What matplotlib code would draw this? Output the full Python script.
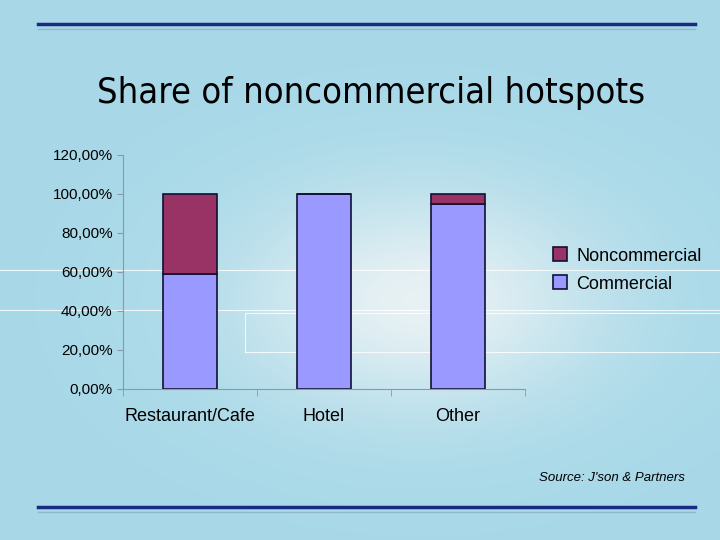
import matplotlib
matplotlib.use("Agg")
import matplotlib.pyplot as plt
import numpy as np
from matplotlib.ticker import FuncFormatter

categories = ["Restaurant/Cafe", "Hotel", "Other"]
commercial = [58.8, 100.0, 94.7]
noncommercial = [41.2, 0.0, 5.3]
yticks = [0, 20, 40, 60, 80, 100, 120]

fig = plt.figure(figsize=(7.2, 5.4), dpi=100)
fig.patch.set_facecolor("#acdbe8")

# slide decoration
bg = fig.add_axes([0, 0, 1, 1], zorder=-10)
bg.set_xlim(0, 720); bg.set_ylim(540, 0); bg.axis("off")
yy, xx = np.mgrid[0:540, 0:720]
glow = np.exp(-(((xx - 420) / 180.0) ** 2 + ((yy - 300) / 110.0) ** 2))
img = np.zeros((540, 720, 3))
base = np.array([0.66, 0.85, 0.91])
for c in range(3):
    img[..., c] = base[c] + (0.97 - base[c]) * glow * 0.8
bg.imshow(img, extent=[0, 720, 540, 0], aspect="auto")
for y in (24, 507):
    bg.plot([38, 695], [y, y], color="#1a2a80", lw=2.5)
    bg.plot([38, 695], [y + 5, y + 5], color="#8fb8c8", lw=1)
bg.plot([0, 720], [270, 270], color="white", lw=0.8, alpha=0.8)
bg.plot([0, 720], [310, 310], color="white", lw=0.8, alpha=0.8)
bg.plot([245, 245, 720], [352, 313, 313], color="white", lw=0.8, alpha=0.8)
bg.plot([245, 720], [352, 352], color="white", lw=0.8, alpha=0.8)
bg.text(371, 93, "Share of noncommercial hotspots", ha="center", va="center",
        fontsize=26, color="black", family="DejaVu Sans", fontstretch="condensed")
bg.text(685, 478, "Source: J'son & Partners", ha="right", va="center",
        fontsize=9.5, style="italic", color="black", family="Liberation Sans")

ax = fig.add_axes([0.171, 0.280, 0.558, 0.433])
ax.patch.set_alpha(0)
x = np.arange(len(categories))
ax.bar(x, commercial, width=0.4, color="#9999ff", edgecolor="#111133", lw=1.2,
       label="Commercial")
ax.bar(x, noncommercial, bottom=commercial, width=0.4, color="#993366",
       edgecolor="#111133", lw=1.2, label="Noncommercial")
ax.set_xlim(-0.5, 2.5)
ax.set_ylim(0, 120)
ax.set_yticks(yticks)
ax.yaxis.set_major_formatter(FuncFormatter(lambda v, p: f"{v:.2f}%".replace(".", ",")))
ax.set_xticks(x)
ax.set_xticklabels(categories, fontsize=13, family="Liberation Sans")
for t in ax.get_yticklabels():
    t.set_family("Liberation Sans")
ax.set_xticks([-0.5, 0.5, 1.5, 2.5], minor=True)
ax.tick_params(axis="x", which="major", length=0, pad=14)
ax.tick_params(axis="x", which="minor", length=5, color="#8899aa")
ax.tick_params(axis="y", labelsize=11, length=4, color="#8899aa")
for s in ("top", "right"):
    ax.spines[s].set_visible(False)
for s in ("left", "bottom"):
    ax.spines[s].set_color("#8899aa")
h, l = ax.get_legend_handles_labels()
fig.legend(h[::-1], l[::-1], loc="center left", bbox_to_anchor=(0.745, 0.50),
           frameon=False, prop={"family": "Liberation Sans", "size": 13},
           handlelength=0.8, handleheight=0.8,
           handletextpad=0.5, labelspacing=0.6)
fig.savefig("out.png", dpi=100, facecolor=fig.get_facecolor())
